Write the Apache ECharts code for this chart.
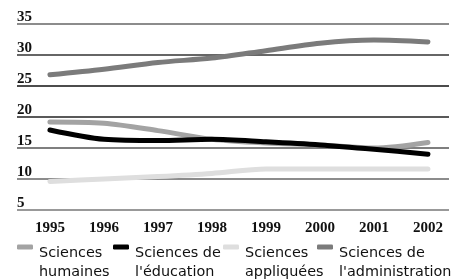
<!DOCTYPE html>
<html>
<head>
<meta charset="utf-8">
<script src="https://cdn.jsdelivr.net/npm/echarts@6/dist/echarts.min.js"></script>
<style>
html, body { margin: 0; padding: 0; background: #fff; }
#chart { width: 466px; height: 279px; }
</style>
</head>
<body>
<div id="chart"></div>
<script>
var years = [1995, 1996, 1997, 1998, 1999, 2000, 2001, 2002];
var yTicks = [5, 10, 15, 20, 25, 30, 35];
var seriesNames = ['Sciences\nhumaines', 'Sciences de\nl\'éducation', 'Sciences\nappliquées', 'Sciences de\nl\'administration'];
var humaines = [19.2, 19.0, 17.8, 16.4, 15.8, 15.5, 15.0, 15.9];
var education = [17.9, 16.4, 16.2, 16.4, 16.0, 15.5, 14.8, 14.0];
var appliquees = [9.6, 10.0, 10.4, 10.9, 11.6, 11.6, 11.6, 11.6];
var administration = [26.8, 27.7, 28.8, 29.5, 30.7, 31.9, 32.4, 32.1];
var colors = ['#a3a3a3', '#000000', '#dedede', '#7b7b7b'];

function pairs(vals) {
    var out = [];
    for (var i = 0; i < years.length; i++) {
        out.push([years[i], vals[i]]);
    }
    return out;
}

var allVals = [humaines, education, appliquees, administration];
var series = [];
for (var s = 0; s < allVals.length; s++) {
    series.push({
        name: seriesNames[s],
        type: 'line',
        data: pairs(allVals[s]),
        smooth: 0.3,
        symbol: 'none',
        lineStyle: { color: colors[s], width: 5, cap: 'round', join: 'round' },
        itemStyle: { color: colors[s] }
    });
}

// une légende par série, placée à la main comme dans l'original
var legendLeft = [17, 113, 223, 317];
var legends = [];
for (var k = 0; k < seriesNames.length; k++) {
    legends.push({
        data: [seriesNames[k]],
        left: legendLeft[k],
        top: 223,
        icon: 'roundRect',
        itemWidth: 16,
        itemHeight: 5,
        itemGap: 0,
        padding: 0,
        formatter: function (name) {
            var p = name.split('\n');
            return '{s| }\n{t|' + p[0] + '}\n{t|' + p[1] + '}';
        },
        textStyle: {
            color: '#111',
            rich: {
                s: { fontSize: 10, lineHeight: 31 },
                t: { fontFamily: 'DejaVu Sans', fontSize: 14.4, lineHeight: 19, color: '#111', padding: [0, 0, 0, 1] }
            }
        }
    });
}

var myChart = echarts.init(document.getElementById('chart'));
myChart.setOption({
    animation: false,
    backgroundColor: '#fff',
    color: colors,
    legend: legends,
    grid: { left: 17, right: 17, top: 24, bottom: 69 },
    xAxis: {
        type: 'value',
        min: 1994.39,
        max: 2002.39,
        splitLine: { show: false },
        axisLine: { show: false },
        axisTick: { show: false },
        axisLabel: {
            customValues: years,
            formatter: function (v) { return String(v); },
            margin: 11,
            fontFamily: 'Liberation Serif',
            fontWeight: 'bold',
            fontSize: 15,
            color: '#111'
        }
    },
    yAxis: {
        type: 'value',
        min: 5,
        max: 35,
        interval: 5,
        axisLine: { show: false },
        axisTick: { show: false },
        axisLabel: {
            inside: true,
            margin: 0,
            align: 'left',
            verticalAlign: 'bottom',
            lineHeight: 14,
            fontFamily: 'Liberation Serif',
            fontWeight: 'bold',
            fontSize: 15,
            color: '#111',
            formatter: function (v) { return yTicks.indexOf(v) >= 0 ? String(v) : ''; }
        },
        splitLine: {
            lineStyle: {
                width: 1.5,
                color: ['#777', '#666', '#555', '#222', '#111', '#333', '#666']
            }
        }
    },
    series: series
});
</script>
</body>
</html>
